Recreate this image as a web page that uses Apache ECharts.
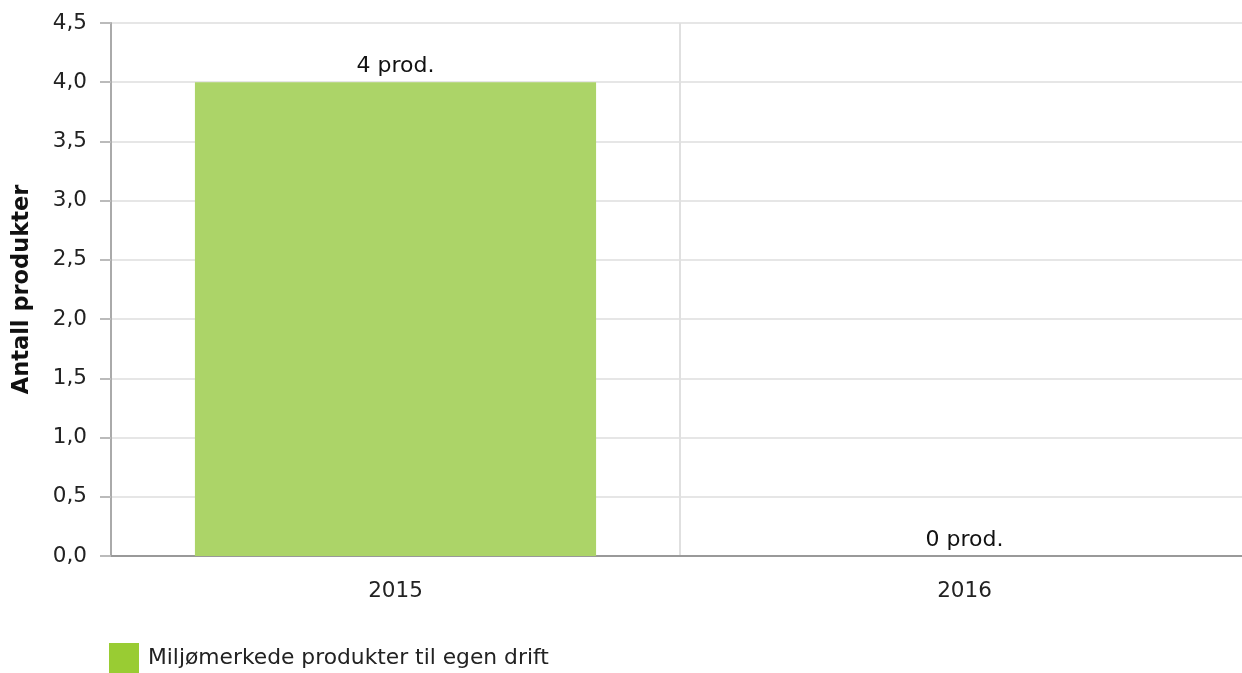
<!DOCTYPE html>
<html><head><meta charset="utf-8">
<script src="https://cdn.jsdelivr.net/npm/echarts@6/dist/echarts.min.js"></script>
<style>html,body{margin:0;padding:0;background:#fff;overflow:hidden}#c{width:1250px;height:673px}</style>
</head><body><div id="c"></div>
<script>
var categories = ['2015', '2016'];
var values = [4, 0];
var seriesName = 'Miljømerkede produkter til egen drift';
var yTitle = 'Antall produkter';

var chart = echarts.init(document.getElementById('c'));
var font = 'DejaVu Sans, Verdana, sans-serif';
chart.setOption({
  animation: false,
  textStyle: { fontFamily: font },
  grid: { left: 111, right: 1, top: 23, height: 533, containLabel: false },
  legend: {
    left: 109, top: 643, itemWidth: 30, itemHeight: 30, itemGap: 10, padding: 0,
    icon: 'rect',
    textStyle: { fontFamily: font, fontSize: 21.8, color: '#222', padding: [6, 0, 0, 4] },
    data: [{ name: seriesName, itemStyle: { color: '#99cc33' } }]
  },
  xAxis: {
    type: 'category', data: categories,
    axisLine: { lineStyle: { color: '#999', width: 2 } },
    axisTick: { alignWithLabel: true, length: 9, lineStyle: { color: '#bbb', width: 2 } },
    splitLine: { show: true, lineStyle: { color: '#e0e0e0', width: 2 } },
    axisLabel: { fontFamily: font, fontSize: 21.5, color: '#222', margin: 24 }
  },
  yAxis: {
    type: 'value', min: 0, max: 4.5, interval: 0.5,
    name: yTitle, nameLocation: 'middle', nameGap: 77,
    nameTextStyle: { fontFamily: font, fontSize: 22.5, fontWeight: 'bold', color: '#111' },
    axisLine: { show: true, lineStyle: { color: '#aaa', width: 2 } },
    axisTick: { show: true, length: 11, lineStyle: { color: '#bbb', width: 2 } },
    splitLine: { lineStyle: { color: '#e6e6e6', width: 2 } },
    axisLabel: {
      fontFamily: font, fontSize: 21.5, color: '#222', margin: 24,
      formatter: function (v) { return v.toFixed(1).replace('.', ','); }
    }
  },
  series: [{
    name: seriesName, type: 'bar', data: values, barWidth: '70.5%',
    itemStyle: { color: '#acd468' },
    label: {
      show: true, position: 'top', distance: 5,
      fontFamily: font, fontSize: 22, color: '#111',
      formatter: function (p) { return p.value + ' prod.'; }
    }
  }]
});
</script></body></html>
